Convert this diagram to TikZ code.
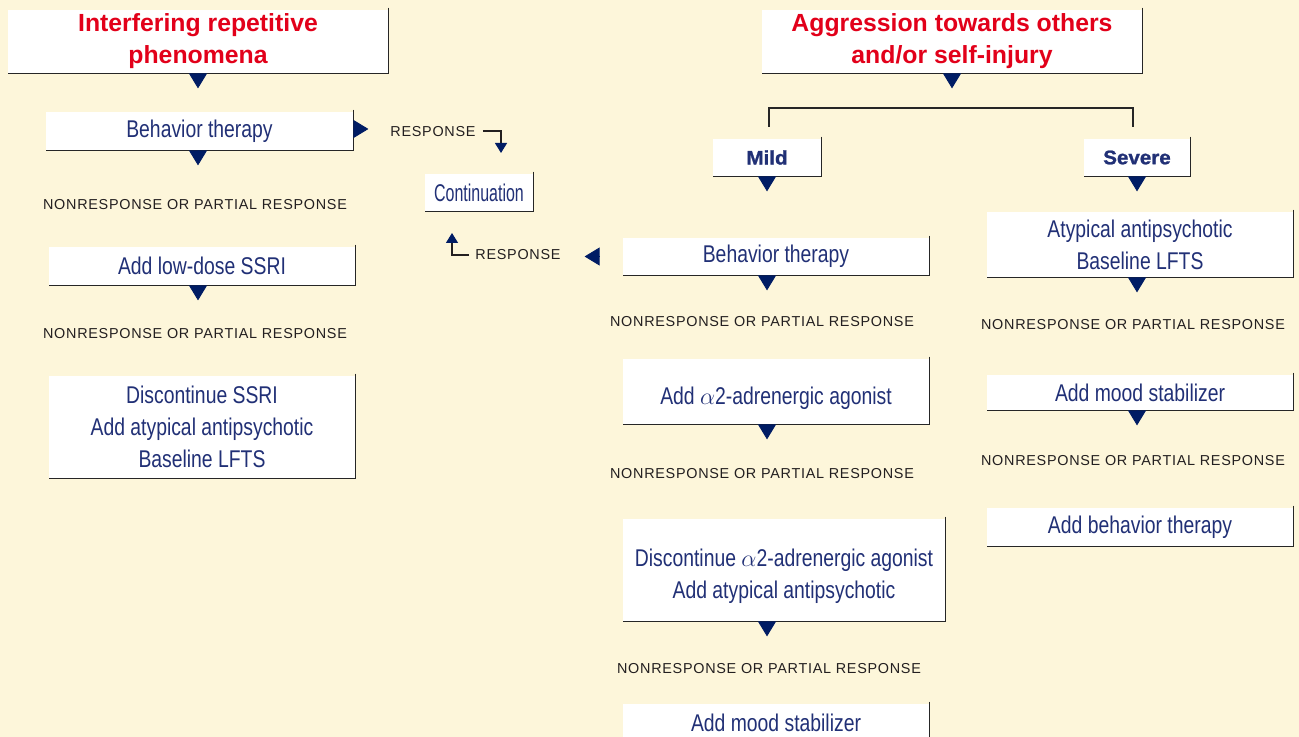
\documentclass[tikz,border=0pt]{standalone}
\usepackage{fontspec}
\setmainfont{Liberation Sans}
\newfontfamily\condfont{Liberation Sans}[FakeStretch=0.8]
\newfontfamily\narrowfont{Liberation Sans}[FakeStretch=0.66]
\newfontfamily\widefont{Liberation Sans}[FakeStretch=1.05,FakeBold=1.2]
\newfontfamily\capsfont{Liberation Sans}[LetterSpace=5]
\usetikzlibrary{arrows.meta,positioning}
\definecolor{bg}{RGB}{253,246,218}
\definecolor{navy}{RGB}{33,48,118}
\definecolor{tipblue}{RGB}{0,28,100}
\definecolor{titlered}{RGB}{226,0,26}
\definecolor{lbltext}{RGB}{35,31,32}

\begin{document}
\begin{tikzpicture}[x=0.5pt,y=-0.5pt,
  box/.style={fill=white, inner sep=0pt, align=center, text=navy,
    font=\condfont\fontsize{12.1}{16}\selectfont},
  headbox/.style={box, text=titlered, font=\bfseries\fontsize{12.4}{16}\selectfont,
    minimum width=190pt, minimum height=31.5pt},
  classbox/.style={box, font=\widefont\bfseries\fontsize{9.8}{12}\selectfont,
    minimum height=18.5pt},
  lbl/.style={text=lbltext, inner sep=0pt, font=\capsfont\fontsize{7.2}{9}\selectfont},
  rim/.style={draw=black!85, line width=0.8pt},
  bigtip/.style={tipblue, -{Triangle[width=9pt,length=7.5pt]}},
  smalltip/.style={draw=lbltext, line width=0.6pt, -{Triangle[width=6pt,length=5pt,color=tipblue]}}
]
\fill[bg] (0,0) rectangle (1299,737);
\useasboundingbox (0,0) rectangle (1299,737);

% left branch
\node[headbox] (tl) at (198,41.5) {Interfering repetitive\\phenomena};
\node[box, minimum width=153.5pt, minimum height=19pt] (lb1) at (199.5,131) {Behavior therapy};
\node[lbl] (n1) at (195,205) {NONRESPONSE OR PARTIAL RESPONSE};
\node[box, minimum width=153pt, minimum height=19pt] (lb2) at (202,266) {Add low-dose SSRI};
\node[lbl] (n2) at (195,334) {NONRESPONSE OR PARTIAL RESPONSE};
\node[box, minimum width=153pt, minimum height=51pt] (lb3) at (202,427)
  {Discontinue SSRI\\Add atypical antipsychotic\\Baseline LFTS};

% continuation
\node[box, font=\narrowfont\fontsize{12.1}{16}\selectfont, minimum width=54pt, minimum height=18.5pt]
  (cont) at (479,192.5) {Continuation};
\node[lbl] (r1) at (433,132) {RESPONSE};
\node[lbl] (r2) at (518,255) {RESPONSE};
\coordinate (r1end) at (501,153);
\coordinate (r2end) at (452,233);

% right branch
\node[headbox] (tr) at (952,41.5) {Aggression towards others\\and/or self-injury};
\node[classbox, minimum width=54pt] (mild) at (767,157.5) {Mild};
\node[classbox, minimum width=53pt] (sev) at (1137,157.5) {Severe};
\coordinate (bl) at (769,127);
\coordinate (br) at (1133,127);

\node[box, minimum width=153pt, minimum height=18.5pt] (mb1) at (776,256.5) {Behavior therapy};
\node[lbl] (n3) at (762,322) {NONRESPONSE OR PARTIAL RESPONSE};
\node[box, minimum width=153pt, minimum height=32.5pt, text height=15.8pt] (mb2) at (776,391.5)
  {Add $\alpha$2-adrenergic agonist};
\node[lbl] (n4) at (762,474) {NONRESPONSE OR PARTIAL RESPONSE};
\node[box, minimum width=161pt, minimum height=51pt, text height=30.8pt] (mb3) at (784,570)
  {Discontinue $\alpha$2-adrenergic agonist\\Add atypical antipsychotic};
\node[lbl] (n5) at (769,669) {NONRESPONSE OR PARTIAL RESPONSE};
\node[box, minimum width=153pt, minimum height=19pt] (mb4) at (776,723) {Add mood stabilizer};

\node[box, minimum width=153pt, minimum height=32.5pt] (sb1) at (1140,244.5)
  {Atypical antipsychotic\\Baseline LFTS};
\node[lbl] (n6) at (1133,325) {NONRESPONSE OR PARTIAL RESPONSE};
\node[box, minimum width=153pt, minimum height=17.5pt] (sb2) at (1140,392.5) {Add mood stabilizer};
\node[lbl] (n7) at (1133,461) {NONRESPONSE OR PARTIAL RESPONSE};
\node[box, minimum width=153pt, minimum height=19pt] (sb3) at (1140,527) {Add behavior therapy};

% box edges
\foreach \b in {tl,tr,lb1,lb2,lb3,cont,mild,sev,mb1,mb2,mb3,mb4,sb1,sb2,sb3}
  \draw[rim] ([yshift=1pt]\b.north east) -- (\b.south east) -- (\b.south west);

% bracket
\draw[rim, line width=1pt] (bl) -- ++(0,-19) -| (br);

% triangles
\draw[bigtip] (tl.south) -- ++(0,15);
\draw[bigtip] (lb1.south -| tl) -- ++(0,15);
\draw[bigtip] (lb2.south -| tl) -- ++(0,15);
\draw[bigtip] ([yshift=1pt]lb1.east) -- ++(15,0);
\draw[bigtip] (tr.south) -- ++(0,15);
\draw[bigtip] (mild.south) -- ++(0,15);
\draw[bigtip] (mb1.south -| mild) -- ++(0,15);
\draw[bigtip] (mb2.south -| mild) -- ++(0,15);
\draw[bigtip] (mb3.south -| mild) -- ++(0,15);
\draw[bigtip] ([xshift=-11.5pt]mb1.west) -- ++(-15,0);
\draw[bigtip] (sev.south) -- ++(0,15);
\draw[bigtip] (sb1.south -| sev) -- ++(0,15);
\draw[bigtip] (sb2.south -| sev) -- ++(0,15);

% response arrows
\draw[smalltip] ([xshift=3.5pt,yshift=0.5pt]r1.east) -| (r1end);
\draw[smalltip] ([xshift=-3pt]r2.west) -| (r2end);
\end{tikzpicture}
\end{document}
